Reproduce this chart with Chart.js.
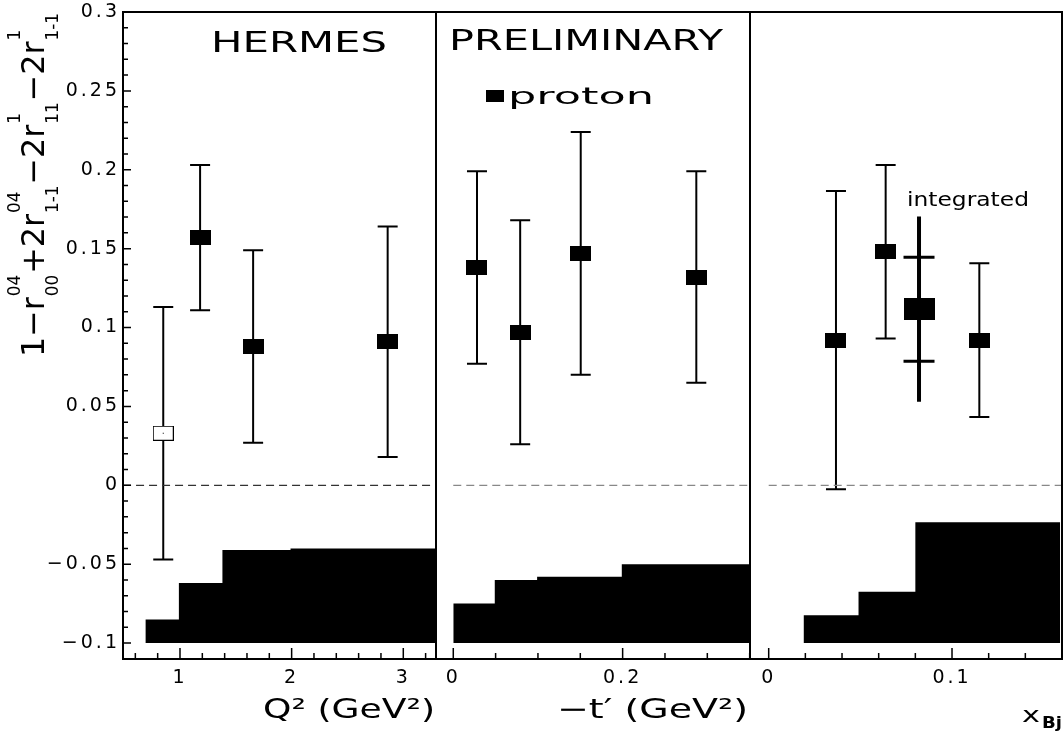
<!DOCTYPE html>
<html>
<head>
<meta charset="utf-8">
<script src="https://cdn.jsdelivr.net/npm/chart.js@4.4.0/dist/chart.umd.min.js"></script>
<style>
  body { margin: 0; background: #fff; }
  #wrap { position: relative; width: 1064px; height: 733px; overflow: hidden; background: #fff; }
  canvas { position: absolute; top: 0; }
</style>
</head>
<body>
<div id="wrap">
  <canvas id="q2" width="446" height="733" style="left:0px"></canvas>
  <canvas id="tp" width="334" height="733" style="left:426px"></canvas>
  <canvas id="xbj" width="334" height="733" style="left:740px"></canvas>
</div>
<script>
// shared y axis
const yTicks = [-0.1, -0.05, 0, 0.05, 0.1, 0.15, 0.2, 0.25, 0.3];
const yTickLabels = ['\u22120.1', '\u22120.05', '0', '0.05', '0.1', '0.15', '0.2', '0.25', '0.3'];
const sysBase = -0.1;

// Q^2 panel
const q2 = [0.85, 1.18, 1.655, 2.86];
const q2Val = [0.033, 0.157, 0.088, 0.091];
const q2Err = [0.080, 0.046, 0.061, 0.073];
const q2SysEdges = [0.69, 0.99, 1.38, 1.99, 3.29];
const q2Sys = [-0.085, -0.062, -0.041, -0.040];
const q2Ticks = [1, 2, 3];
const q2TickLabels = ['1', '2', '3'];

// -t' panel
const tp = [0.028, 0.079, 0.1505, 0.287];
const tpVal = [0.138, 0.097, 0.147, 0.132];
const tpErr = [0.061, 0.071, 0.077, 0.067];
const tpSysEdges = [0, 0.049, 0.099, 0.199, 0.351];
const tpSys = [-0.075, -0.060, -0.058, -0.050];
const tpTicks = [0, 0.2];
const tpTickLabels = ['0', '0.2'];

// x_Bj panel
const xb = [0.0367, 0.0638, 0.1149];
const xbVal = [0.092, 0.148, 0.092];
const xbErr = [0.0945, 0.055, 0.0487];
const xbSysEdges = [0.019, 0.049, 0.080, 0.159];
const xbSys = [-0.0823, -0.0675, -0.0234];
const xbTicks = [0, 0.1];
const xbTickLabels = ['0', '0.1'];

// integrated value (stat + total error)
const intX = [0.082];
const intVal = [0.1116];
const intStat = [0.033];
const intTot = [0.0587];

const FONT = '"DejaVu Sans", sans-serif';
const xTickFont = { family: 'DejaVu Sans', size: 19 };
const yTickFont = { family: 'DejaVu Sans', size: 19, lineHeight: 0.9 };

function pts(xs, ys) { return xs.map((x, i) => ({ x: x, y: ys[i] })); }

// step outline: each bin top held until the next edge
function steps(edges, tops) {
  const d = tops.map((t, i) => ({ x: edges[i], y: t }));
  d.push({ x: edges[edges.length - 1], y: tops[tops.length - 1] });
  return d;
}

function marker(w, h, open) {
  const c = document.createElement('canvas');
  c.width = w; c.height = h;
  const g = c.getContext('2d');
  if (open) {
    g.fillStyle = '#fff'; g.fillRect(0, 0, w, h);
    g.strokeStyle = '#000'; g.lineWidth = 1; g.strokeRect(0.5, 0.5, w - 1, h - 1);
    g.fillStyle = '#000'; g.fillRect(Math.floor(w / 2), Math.floor(h / 2), 1, 1);
  } else {
    g.fillStyle = '#000'; g.fillRect(0, 0, w, h);
  }
  return c;
}
const solid = marker(21, 15, false);
const hollow = marker(21, 15, true);
const big = marker(31, 22, false);

function wideText(ctx, str, x, y, size, width, bold) {
  ctx.save();
  ctx.letterSpacing = '0px';
  ctx.font = (bold ? 'bold ' : '') + size + 'px ' + FONT;
  ctx.fillStyle = '#000';
  ctx.textAlign = 'left';
  ctx.textBaseline = 'alphabetic';
  const w = ctx.measureText(str).width;
  ctx.translate(x, y);
  ctx.scale(width / w, 1);
  ctx.fillText(str, 0, 0);
  ctx.restore();
}

// wider tick numbers, like the original plot font
const spacing = {
  id: 'spacing',
  beforeUpdate(chart) { chart.ctx.letterSpacing = '3px'; },
  beforeLayout(chart) { chart.ctx.letterSpacing = '3px'; },
  beforeDraw(chart) { chart.ctx.letterSpacing = '3px'; }
};

const errorBars = {
  id: 'errorBars',
  beforeDatasetsDraw(chart) {
    const ctx = chart.ctx, y = chart.scales.y;
    chart.data.datasets.forEach((ds, i) => {
      if (!ds.errors) return;
      chart.getDatasetMeta(i).data.forEach((pt, j) => {
        const v = ds.data[j].y;
        const hi = y.getPixelForValue(v + ds.errors[j]);
        const lo = y.getPixelForValue(v - ds.errors[j]);
        ctx.save();
        ctx.strokeStyle = '#000';
        ctx.lineWidth = ds.errorLineWidth || 2;
        ctx.beginPath();
        ctx.moveTo(pt.x, hi); ctx.lineTo(pt.x, lo);
        ctx.stroke();
        if (ds.capWidth) {
          ctx.lineWidth = 2;
          ctx.beginPath();
          [hi, lo].forEach(py => { ctx.moveTo(pt.x - ds.capWidth / 2, py); ctx.lineTo(pt.x + ds.capWidth / 2, py); });
          ctx.stroke();
        }
        if (ds.statErrors) {
          ctx.lineWidth = 3;
          ctx.beginPath();
          [v + ds.statErrors[j], v - ds.statErrors[j]].forEach(e => {
            const py = y.getPixelForValue(e);
            ctx.moveTo(pt.x - ds.statWidth / 2, py); ctx.lineTo(pt.x + ds.statWidth / 2, py);
          });
          ctx.stroke();
        }
        ctx.restore();
      });
    });
  }
};

// box around the plot area with inward tick marks
const frame = {
  id: 'frame',
  afterDatasetsDraw(chart, args, opts) {
    const { ctx, chartArea: a } = chart;
    const x = chart.scales.x, y = chart.scales.y;
    ctx.save();
    ctx.strokeStyle = '#000';
    ctx.lineWidth = 1.5;
    ctx.beginPath();
    const n0 = Math.ceil(x.min / opts.xMinor - 1e-6), n1 = Math.floor(x.max / opts.xMinor + 1e-6);
    for (let k = n0; k <= n1; k++) {
      const px = x.getPixelForValue(k * opts.xMinor);
      ctx.moveTo(px, a.bottom); ctx.lineTo(px, a.bottom - 6);
    }
    x.ticks.forEach(t => {
      const px = x.getPixelForValue(t.value);
      ctx.moveTo(px, a.bottom); ctx.lineTo(px, a.bottom - 11);
    });
    if (opts.yMinor) {
      const m0 = Math.ceil(y.min / opts.yMinor - 1e-6), m1 = Math.floor(y.max / opts.yMinor + 1e-6);
      for (let k = m0; k <= m1; k++) {
        const py = y.getPixelForValue(k * opts.yMinor);
        ctx.moveTo(a.left, py); ctx.lineTo(a.left + 5, py);
      }
      y.ticks.forEach(t => {
        const py = y.getPixelForValue(t.value);
        ctx.moveTo(a.left, py); ctx.lineTo(a.left + 8, py);
      });
    }
    ctx.stroke();
    ctx.lineWidth = 2;
    ctx.strokeRect(a.left, a.top, a.right - a.left, a.bottom - a.top);
    ctx.restore();
  }
};

function sysSet(edges, tops) {
  return {
    data: steps(edges, tops), showLine: true, stepped: 'before',
    fill: { value: sysBase }, backgroundColor: '#000', borderColor: '#000',
    borderWidth: 0, pointRadius: 0
  };
}
function zeroSet(x0, x1, color) {
  return {
    data: [{ x: x0, y: 0 }, { x: x1, y: 0 }], showLine: true,
    borderColor: color, borderWidth: 1.2, borderDash: [8, 5], pointRadius: 0
  };
}
function pointSet(xs, ys, errs, style) {
  return {
    data: pts(xs, ys), errors: errs, capWidth: 20, errorLineWidth: 2,
    pointStyle: style, pointRadius: 6, backgroundColor: '#000', borderColor: '#000'
  };
}

function panel(id, cfg) {
  return new Chart(document.getElementById(id), {
    type: 'scatter',
    data: { datasets: cfg.datasets },
    options: {
      responsive: false,
      animation: false,
      events: [],
      layout: { padding: cfg.padding },
      plugins: { legend: { display: false }, tooltip: { enabled: false }, frame: cfg.frame },
      scales: {
        x: {
          type: 'linear', min: cfg.xMin, max: cfg.xMax,
          grid: { display: false, drawTicks: false }, border: { display: false },
          afterBuildTicks: s => { s.ticks = cfg.xTicks.map(v => ({ value: v })); },
          afterFit: s => { s.height = 74; },
          ticks: {
            autoSkip: false, maxRotation: 0, padding: 8, color: '#000', font: xTickFont,
            callback: (v, i) => cfg.xLabels[i]
          }
        },
        y: {
          type: 'linear', display: cfg.showY, min: -0.1101, max: 0.3,
          grid: { display: false, drawTicks: false }, border: { display: false },
          afterBuildTicks: s => { s.ticks = yTicks.map(v => ({ value: v })); },
          afterFit: s => { s.width = cfg.showY ? 123 : 0; },
          ticks: { padding: 3, color: '#000', font: yTickFont, callback: (v, i) => yTickLabels[i] }
        }
      }
    },
    plugins: [spacing, errorBars, frame, cfg.decor]
  });
}

// y title: 1-r^04_00+2r^04_1-1-2r^1_11-2r^1_1-1
function yTitle(ctx) {
  const parts = [['1'], ['\u2212'], ['r'], ['04', '00'], ['+'], ['2'], ['r'], ['04', '1-1'],
    ['\u2212'], ['2'], ['r'], ['1', '11'], ['\u2212'], ['2'], ['r'], ['1', '1-1']];
  const bigF = '32px ' + FONT, smallF = '17px ' + FONT;
  ctx.save();
  ctx.letterSpacing = '0px';
  ctx.fillStyle = '#000';
  ctx.textAlign = 'left';
  ctx.textBaseline = 'alphabetic';
  const widthOf = p => {
    if (p.length === 1) { ctx.font = bigF; return ctx.measureText(p[0]).width; }
    ctx.font = smallF;
    return Math.max(ctx.measureText(p[0]).width, ctx.measureText(p[1]).width) + 2;
  };
  const total = parts.reduce((s, p) => s + widthOf(p), 0);
  ctx.translate(44, 357);
  ctx.rotate(-Math.PI / 2);
  ctx.scale(345 / total, 1);
  let pos = 0;
  parts.forEach(p => {
    const w = widthOf(p);
    if (p.length === 1) {
      ctx.font = bigF; ctx.fillText(p[0], pos, 0);
    } else {
      ctx.font = smallF;
      ctx.fillText(p[0], pos + 1, -24);
      ctx.fillText(p[1], pos + 1, 14);
    }
    pos += w;
  });
  ctx.restore();
}

panel('q2', {
  xMin: 0.4895, xMax: 3.293, xTicks: q2Ticks, xLabels: q2TickLabels, showY: true,
  padding: { top: 12, right: 10, left: 0, bottom: 0 },
  frame: { xMinor: 0.2, yMinor: 0.01 },
  datasets: [
    pointSet(q2, q2Val, q2Err, ctx => ctx.dataIndex === 0 ? hollow : solid),
    zeroSet(0.49, 3.29, '#333'),
    sysSet(q2SysEdges, q2Sys)
  ],
  decor: {
    id: 'decorQ2',
    afterDraw(chart) {
      const ctx = chart.ctx;
      wideText(ctx, 'HERMES', 211, 52, 28, 176);
      wideText(ctx, 'Q\u00b2 (GeV\u00b2)', 263, 718, 27, 172);
      yTitle(ctx);
    }
  }
});

panel('tp', {
  xMin: -0.0204, xMax: 0.3504, xTicks: tpTicks, xLabels: tpTickLabels, showY: false,
  padding: { top: 12, right: 10, left: 10, bottom: 0 },
  frame: { xMinor: 0.05 },
  datasets: [
    pointSet(tp, tpVal, tpErr, solid),
    zeroSet(0, 0.35, '#888'),
    sysSet(tpSysEdges, tpSys)
  ],
  decor: {
    id: 'decorTp',
    afterDraw(chart) {
      const ctx = chart.ctx;
      ctx.save();
      ctx.translate(-426, 0);
      wideText(ctx, 'PRELIMINARY', 449, 50, 28, 274);
      ctx.fillStyle = '#000';
      ctx.fillRect(486, 90, 18, 12);
      wideText(ctx, 'proton', 508, 104, 23, 146);
      wideText(ctx, '\u2212t\u2032 (GeV\u00b2)', 557, 718, 27, 191);
      ctx.restore();
    }
  }
});

panel('xbj', {
  xMin: -0.0102, xMax: 0.16, xTicks: xbTicks, xLabels: xbTickLabels, showY: false,
  padding: { top: 12, right: 12, left: 10, bottom: 0 },
  frame: { xMinor: 0.02 },
  datasets: [
    {
      data: pts(intX, intVal), errors: intTot, statErrors: intStat, statWidth: 31,
      errorLineWidth: 4, pointStyle: big, pointRadius: 8, backgroundColor: '#000'
    },
    pointSet(xb, xbVal, xbErr, solid),
    zeroSet(0, 0.16, '#888'),
    sysSet(xbSysEdges, xbSys)
  ],
  decor: {
    id: 'decorXb',
    afterDraw(chart) {
      const ctx = chart.ctx;
      ctx.save();
      ctx.translate(-740, 0);
      wideText(ctx, 'integrated', 907, 206, 19, 122);
      wideText(ctx, 'x', 1022, 722, 22, 18);
      wideText(ctx, 'Bj', 1042, 728, 15, 20, true);
      ctx.restore();
    }
  }
});
</script>
</body>
</html>
